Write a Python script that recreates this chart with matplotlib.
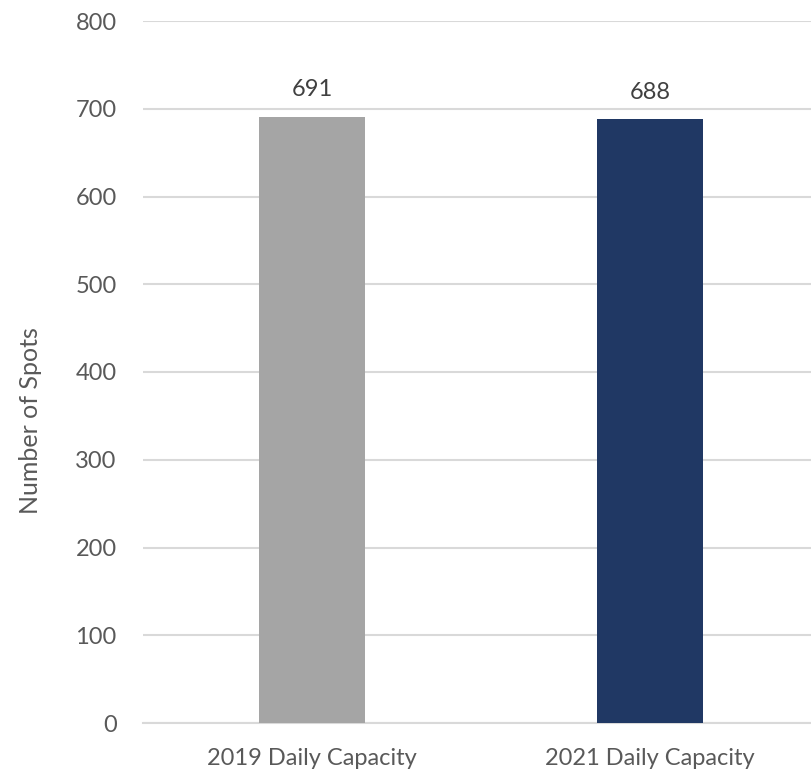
import matplotlib
matplotlib.use("Agg")
import matplotlib.pyplot as plt

categories = ["2019 Daily Capacity", "2021 Daily Capacity"]
values = [691, 688]
colors = ["#A5A5A5", "#203864"]
yticks = [0, 100, 200, 300, 400, 500, 600, 700, 800]

plt.rcParams['font.family'] = ['Lato', 'DejaVu Sans']
W, H = 811, 777
fig = plt.figure(figsize=(W/100, H/100), dpi=100)
ax = fig.add_axes([143/W, (H-723)/H, 676/W, 702/H])

x = list(range(len(categories)))
ax.bar(x, values, width=0.314, color=colors, zorder=3)
for xi, v in zip(x, values):
    ax.annotate(str(v), (xi, v), xytext=(0, 12), textcoords='offset points',
                ha='center', va='bottom', fontsize=17, color='#404040')

ax.set_xlim(-0.5, 1.5)
ax.set_ylim(0, 800)
ax.set_yticks(yticks)
ax.set_xticks(x)
ax.set_xticklabels(categories)
ax.yaxis.grid(True, color='#D9D9D9', linewidth=1.5, zorder=0)
ax.set_axisbelow(True)
for s in ['top', 'right', 'left']:
    ax.spines[s].set_visible(False)
ax.spines['bottom'].set_color('#D9D9D9')
ax.spines['bottom'].set_linewidth(1.5)
ax.tick_params(axis='both', length=0, labelsize=17, labelcolor='#595959')
ax.tick_params(axis='y', pad=19)
ax.tick_params(axis='x', pad=18)
ax.set_ylabel("Number of Spots", fontsize=18, color='#595959')
ax.yaxis.set_label_coords(30/W, (H-421)/H, transform=fig.transFigure)
ax.yaxis.label.set_va('center')

fig.savefig("out.png", dpi=100)
